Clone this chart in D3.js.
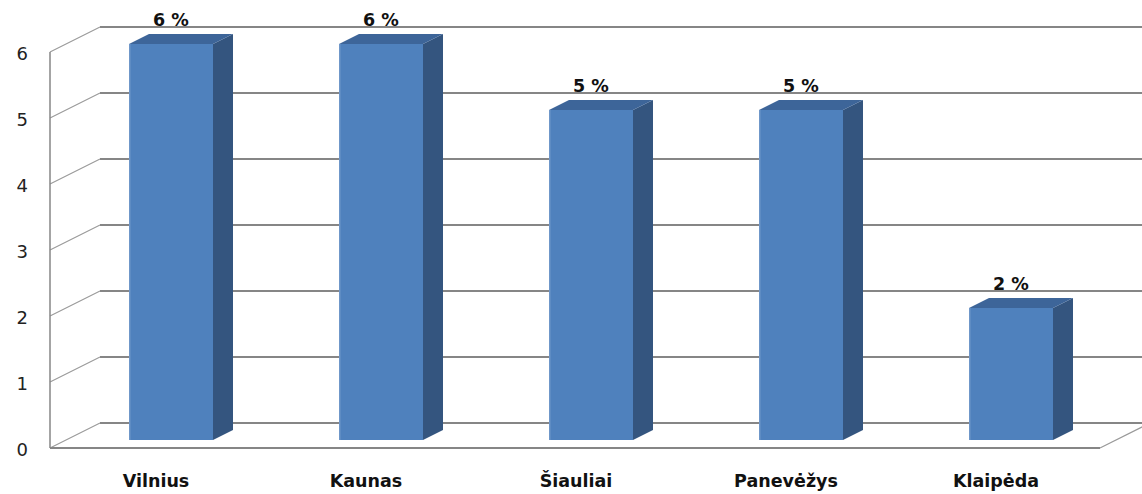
<!DOCTYPE html>
<html>
<head>
<meta charset="utf-8">
<script src="https://cdn.jsdelivr.net/npm/d3@7"></script>
<style>
    body { margin: 0; background: #fff; }
    svg { display: block; }
</style>
</head>
<body>
<div id="chart"></div>
<script>
// chart data
const cities = ["Vilnius", "Kaunas", "Šiauliai", "Panevėžys", "Klaipėda"];
const values = [6, 6, 5, 5, 2];
const yTicks = [0, 1, 2, 3, 4, 5, 6];

const width = 1142, height = 494;

// front plane of the 3D box
const plot = { left: 50, right: 1100, top: 52, bottom: 448 };
// full depth offset of the box (front -> back wall)
const depth = { dx: 50, dy: -25 };
// bar sits between these depth fractions
const barFront = 0.32, barBack = 0.72;

const svg = d3.select("#chart").append("svg")
    .attr("width", width)
    .attr("height", height);

const x = d3.scaleBand()
    .domain(cities)
    .range([plot.left, plot.right])
    .paddingInner(0.6)
    .paddingOuter(0.3);

const y = d3.scaleLinear()
    .domain([0, 6])
    .range([plot.bottom, plot.top]);

// project a front-plane point to depth t
const px = (xv, t) => xv + depth.dx * t;
const py = (yv, t) => yv + depth.dy * t;

// back wall gridlines
svg.append("g").selectAll("line")
    .data(yTicks)
    .join("line")
    .attr("x1", px(plot.left, 1))
    .attr("x2", width)
    .attr("y1", d => py(y(d), 1))
    .attr("y2", d => py(y(d), 1))
    .attr("stroke", "#868686")
    .attr("stroke-width", 2);

// side wall diagonals
svg.append("g").selectAll("line")
    .data(yTicks)
    .join("line")
    .attr("x1", plot.left)
    .attr("y1", d => y(d))
    .attr("x2", px(plot.left, 1))
    .attr("y2", d => py(y(d), 1))
    .attr("stroke", "#9a9a9a")
    .attr("stroke-width", 1.2);

// floor front edge and right edge
svg.append("line")
    .attr("x1", plot.left).attr("x2", plot.right)
    .attr("y1", y(0)).attr("y2", y(0))
    .attr("stroke", "#868686").attr("stroke-width", 2);
svg.append("line")
    .attr("x1", plot.right).attr("y1", y(0))
    .attr("x2", px(plot.right, 1)).attr("y2", py(y(0), 1))
    .attr("stroke", "#9a9a9a").attr("stroke-width", 1.2);

// vertical axis line
svg.append("line")
    .attr("x1", plot.left).attr("x2", plot.left)
    .attr("y1", y(6)).attr("y2", y(0))
    .attr("stroke", "#868686").attr("stroke-width", 1.5);

// tick labels
svg.append("g").selectAll("text")
    .data(yTicks)
    .join("text")
    .attr("x", 28)
    .attr("y", d => y(d) + 8)
    .attr("text-anchor", "end")
    .attr("font-family", "DejaVu Sans, sans-serif")
    .attr("font-size", 18)
    .attr("fill", "#222")
    .text(d => d);

// bars
const data = cities.map((c, i) => ({ city: c, value: values[i] }));
const bw = x.bandwidth();
const dxBar = depth.dx * (barBack - barFront);
const dyBar = depth.dy * (barBack - barFront);

const bars = svg.append("g").selectAll("g")
    .data(data)
    .join("g")
    .attr("class", "bar");

// front face
bars.append("rect")
    .attr("x", d => px(x(d.city), barFront))
    .attr("y", d => py(y(d.value), barFront))
    .attr("width", bw)
    .attr("height", d => y(0) - y(d.value))
    .attr("fill", "#4f81bd");

// left highlight
bars.append("rect")
    .attr("x", d => px(x(d.city), barFront))
    .attr("y", d => py(y(d.value), barFront))
    .attr("width", 1.5)
    .attr("height", d => y(0) - y(d.value))
    .attr("fill", "#6f97c9");

// side face
bars.append("path")
    .attr("fill", "#34557f")
    .attr("d", d => {
        const x0 = px(x(d.city), barFront) + bw;
        const yt = py(y(d.value), barFront);
        const yb = py(y(0), barFront);
        return `M${x0},${yt} L${x0 + dxBar},${yt + dyBar} L${x0 + dxBar},${yb + dyBar} L${x0},${yb} Z`;
    });

// top face
bars.append("path")
    .attr("fill", "#3d6599")
    .attr("d", d => {
        const x0 = px(x(d.city), barFront);
        const yt = py(y(d.value), barFront);
        return `M${x0},${yt} L${x0 + bw},${yt} L${x0 + bw + dxBar},${yt + dyBar} L${x0 + dxBar},${yt + dyBar} Z`;
    });

// value labels
bars.append("text")
    .attr("x", d => px(x(d.city), barFront) + bw / 2)
    .attr("y", d => py(y(d.value), barBack) - 8)
    .attr("text-anchor", "middle")
    .attr("font-family", "DejaVu Sans, sans-serif")
    .attr("font-weight", "bold")
    .attr("font-size", 17.5)
    .attr("fill", "#111")
    .text(d => `${d.value} %`);

// category labels
svg.append("g").selectAll("text")
    .data(cities)
    .join("text")
    .attr("x", d => x(d) + bw / 2 + 1)
    .attr("y", 487)
    .attr("text-anchor", "middle")
    .attr("font-family", "DejaVu Sans, sans-serif")
    .attr("font-weight", "bold")
    .attr("font-size", 17.5)
    .attr("fill", "#111")
    .text(d => d);
</script>
</body>
</html>
